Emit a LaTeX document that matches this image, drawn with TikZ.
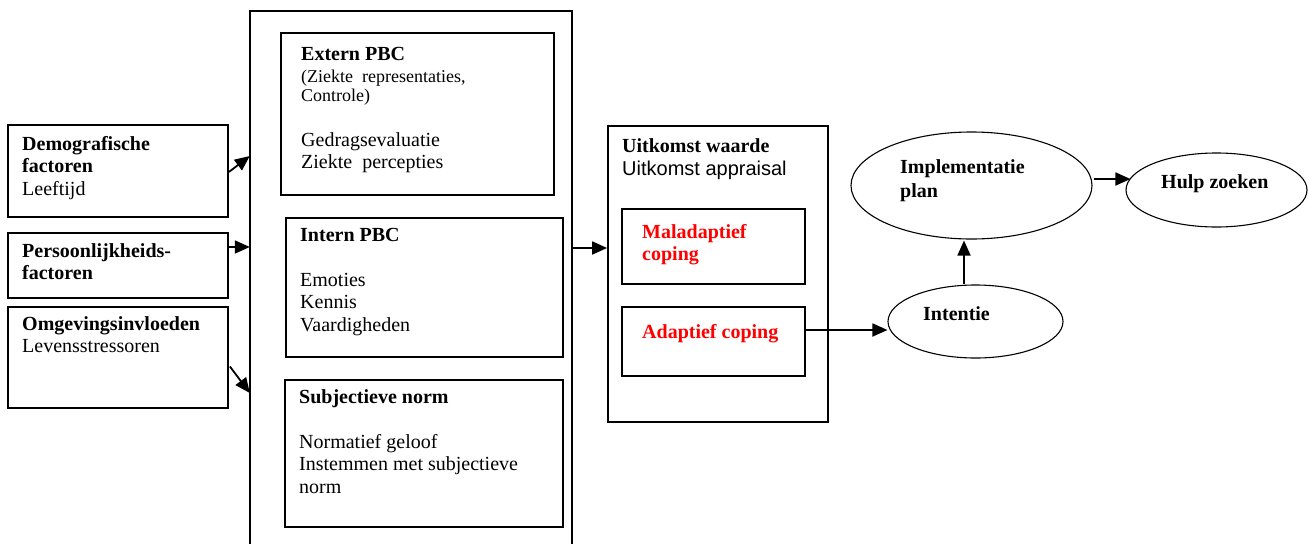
\documentclass[tikz,border=0pt]{standalone}
\usepackage{fontspec}
\setmainfont{Liberation Serif}
\setsansfont{Liberation Sans}
\usetikzlibrary{arrows.meta,shapes.geometric,calc}
\definecolor{copred}{RGB}{255,0,0}
\tikzset{
  boxnode/.style={draw, line width=1.8pt, rectangle, inner sep=0pt},
  ovalnode/.style={draw, line width=1.1pt, ellipse, inner sep=0pt},
  txt/.style={anchor=north west, inner sep=0pt, align=left, font=\fontsize{20}{22.5}\selectfont},
  smalltxt/.style={anchor=north west, inner sep=0pt, align=left, font=\fontsize{18}{19}\selectfont},
  arr/.style={line width=1.8pt, -{Triangle[length=15pt,width=13pt]}},
}
\begin{document}
\begin{tikzpicture}[x=1pt,y=-1pt]
\useasboundingbox (0,0) rectangle (1309,544);

% input factors
\node[boxnode, minimum width=220pt, minimum height=92pt] (demo) at (118,171) {};
\node[boxnode, minimum width=220pt, minimum height=65pt] (pers) at (118,265.5) {};
\node[boxnode, minimum width=220pt, minimum height=101pt] (omg) at (118,357.5) {};
\node[txt] (demotxt) at (22,136) {\textbf{Demografische}\\\textbf{factoren}\\Leeftijd};
\node[txt] (perstxt) at (22,243) {\textbf{Persoonlijkheids-}\\\textbf{factoren}};
\node[txt] (omgtxt) at (22,316) {\textbf{Omgevingsinvloeden}\\Levensstressoren};

% central column, open at the bottom
\node[minimum width=322pt, minimum height=533pt, inner sep=0pt] (pbc) at (411,277.5) {};
\draw[line width=1.8pt] (pbc.south west) -- (pbc.north west) -- (pbc.north east) -- (pbc.south east);

\node[boxnode, minimum width=273pt, minimum height=162pt] (extern) at (417.5,114) {};
\node[boxnode, minimum width=277pt, minimum height=139pt] (intern) at (424.5,287.5) {};
\node[boxnode, minimum width=278pt, minimum height=147pt] (subj) at (424,453.5) {};

\node[txt] (externtitle) at (301,47) {\textbf{Extern PBC}};
\node[smalltxt] (externsub) at (301,70) {(Ziekte\ \ representaties,\\Controle)};
\node[txt] (externlist) at (301,132) {Gedragsevaluatie\\Ziekte\ \ percepties};

\node[txt] (interntitle) at (300,228) {\textbf{Intern PBC}};
\node[txt] (internlist) at (300,273) {Emoties\\Kennis\\Vaardigheden};

\node[txt] (subjtitle) at (299,389) {\textbf{Subjectieve norm}};
\node[txt] (subjlist) at (299,434) {Normatief geloof\\Instemmen met subjectieve\\norm};

% outcome appraisal
\node[boxnode, minimum width=220pt, minimum height=296pt] (uitk) at (718,274) {};
\node[txt] (uitktitle) at (622,138) {\textbf{Uitkomst waarde}};
\node[txt, font=\sffamily\fontsize{20}{22.5}\selectfont] (uitksub) at (622,160.5) {Uitkomst appraisal};

\node[boxnode, minimum width=183pt, minimum height=75pt] (mal) at (713.5,246.5) {};
\node[boxnode, minimum width=183pt, minimum height=69pt] (adap) at (713.5,341.5) {};
\node[txt, text=copred] (maltxt) at (642,224) {\textbf{Maladaptief}\\\textbf{coping}};
\node[txt, text=copred] (adaptxt) at (642,324) {\textbf{Adaptief coping}};

% intention and behaviour
\node[ovalnode, minimum width=241pt, minimum height=107pt] (impl) at (971.5,185.5) {};
\node[ovalnode, minimum width=181pt, minimum height=74pt] (hulp) at (1216.5,190) {};
\node[ovalnode, minimum width=175pt, minimum height=73pt] (int) at (975.5,321.5) {};
\node[txt, font=\fontsize{20}{24}\selectfont] (impltxt) at (900,159) {\textbf{Implementatie}\\\textbf{plan}};
\node[txt] (hulptxt) at (1161,174) {\textbf{Hulp zoeken}};
\node[txt] (inttxt) at (923,306) {\textbf{Intentie}};

% connectors
\draw[arr] ($(demo.east)+(0,1)$) -- ($(demo.east -| pbc.west)+(0,-15)$);
\draw[arr] ($(pers.east)+(0,-18.5)$) -- ($(pers.east -| pbc.west)+(0,-18.5)$);
\draw[arr] ($(omg.east)+(1,9)$) -- ($(omg.east -| pbc.west)+(0,35.5)$);
\draw[arr] ($(pbc.east)+(0,-29.5)$) -- ($(pbc.east -| uitk.west)+(0,-29.5)$);
\draw[arr] ($(adap.east)+(0,-11.5)$) -- ($(adap.east -| int.west)+(0,-11.5)$);
\draw[arr] ($(int.north)+(-11.5,0)$) -- ($(int.north |- impl.south)+(-11.5,1)$);
\draw[arr] ($(impl.east)+(1,-6.5)$) -- ($(hulp.west)+(5,-11)$);
\end{tikzpicture}
\end{document}
